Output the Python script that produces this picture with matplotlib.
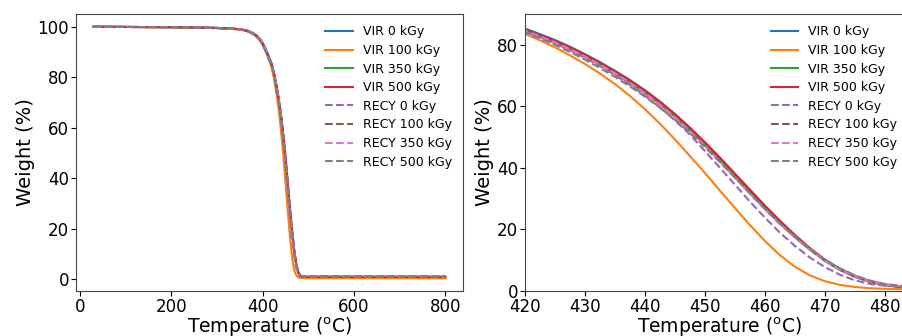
import matplotlib
matplotlib.use('Agg')
import matplotlib.pyplot as plt

# --- dados TGA ---
temperatura = [30, 100, 200, 250, 300, 325, 350, 360, 370, 380, 390, 395, 400, 405, 410, 415,
               420, 422.5, 425, 427.5, 430, 432.5, 435, 437.5, 440, 442.5, 445, 447.5, 450,
               452.5, 455, 457.5, 460, 462.5, 465, 467.5, 470, 472.5, 475, 477.5, 480, 482.5, 485,
               490, 500, 550, 600, 700, 800]

vir_0 = [100.0, 99.9, 99.8, 99.7, 99.5, 99.3, 99.0, 98.7, 98.2, 97.4, 96.0, 95.0, 93.6, 91.8, 89.7, 87.6,
         85.3, 83.5, 81.6, 79.4, 77.0, 74.4, 71.6, 68.6, 65.3, 61.6, 57.5, 53.0, 48.2,
         43.1, 37.8, 32.5, 27.3, 22.4, 17.9, 13.6, 9.9, 6.9, 4.6, 3.0, 1.9, 1.3, 1.0,
         0.9, 0.9, 0.9, 0.9, 0.9, 0.9]

vir_100 = [100.0, 99.9, 99.8, 99.6, 99.4, 99.2, 98.9, 98.5, 97.9, 97.0, 95.4, 94.3, 92.8, 90.9, 88.7, 86.3,
           83.6, 81.5, 79.2, 76.6, 73.8, 70.7, 67.3, 63.4, 59.1, 54.4, 49.3, 43.9, 38.4,
           32.7, 27.0, 21.5, 16.3, 11.7, 7.9, 5.1, 3.2, 2.0, 1.3, 0.9, 0.7, 0.6, 0.6,
           0.5, 0.5, 0.5, 0.5, 0.5, 0.4]

vir_350 = [100.0, 99.9, 99.8, 99.7, 99.5, 99.3, 99.0, 98.6, 98.1, 97.2, 95.8, 94.7, 93.2, 91.4, 89.3, 87.1,
           84.8, 83.0, 81.0, 78.8, 76.4, 73.8, 70.9, 67.8, 64.5, 60.8, 56.7, 52.2, 47.4,
           42.3, 37.0, 31.8, 26.7, 21.9, 17.5, 13.4, 9.8, 6.9, 4.7, 3.1, 2.0, 1.4, 1.1,
           1.0, 1.0, 1.0, 1.0, 1.0, 1.0]

vir_500 = [100.0, 99.9, 99.8, 99.7, 99.5, 99.3, 99.0, 98.7, 98.2, 97.3, 95.9, 94.8, 93.3, 91.5, 89.4, 87.2,
           84.9, 83.2, 81.3, 79.2, 76.8, 74.2, 71.4, 68.4, 65.1, 61.5, 57.5, 53.1, 48.4,
           43.4, 38.2, 33.0, 27.8, 22.9, 18.3, 14.0, 10.2, 7.1, 4.8, 3.1, 2.0, 1.4, 1.1,
           1.0, 1.0, 1.0, 1.0, 1.0, 1.0]

recy_0 = [100.0, 99.9, 99.8, 99.7, 99.5, 99.3, 99.0, 98.6, 98.0, 97.1, 95.6, 94.5, 93.0, 91.2, 89.0, 86.7,
          84.3, 82.5, 80.5, 78.3, 75.8, 73.1, 70.2, 67.0, 63.5, 59.7, 55.5, 50.9, 45.5,
          40.1, 34.6, 29.1, 23.9, 19.0, 14.7, 10.9, 7.8, 5.3, 3.5, 2.3, 1.7, 1.4, 1.3,
          1.2, 1.2, 1.2, 1.2, 1.2, 1.2]

recy_100 = [100.0, 99.9, 99.8, 99.7, 99.5, 99.3, 99.0, 98.6, 98.1, 97.2, 95.8, 94.7, 93.2, 91.3, 89.2, 86.9,
            84.5, 82.7, 80.7, 78.5, 76.1, 73.5, 70.6, 67.5, 64.2, 60.6, 56.6, 52.2, 47.5,
            42.5, 37.3, 32.1, 27.0, 22.2, 17.8, 13.8, 10.2, 7.3, 5.0, 3.3, 2.2, 1.6, 1.3,
            1.2, 1.2, 1.2, 1.2, 1.2, 1.2]

recy_350 = [100.0, 99.9, 99.8, 99.7, 99.5, 99.3, 99.0, 98.6, 98.1, 97.2, 95.8, 94.7, 93.2, 91.3, 89.2, 86.9,
            84.6, 82.8, 80.8, 78.6, 76.2, 73.6, 70.8, 67.7, 64.3, 60.6, 56.5, 52.0, 47.2,
            42.1, 36.9, 31.7, 26.6, 21.8, 17.4, 13.4, 9.9, 7.0, 4.8, 3.2, 2.1, 1.6, 1.3,
            1.2, 1.2, 1.2, 1.2, 1.2, 1.2]

recy_500 = [100.0, 99.9, 99.8, 99.7, 99.5, 99.3, 99.0, 98.5, 97.9, 97.0, 95.5, 94.3, 92.8, 90.9, 88.7, 86.4,
            84.0, 82.1, 80.0, 77.7, 75.2, 72.5, 69.6, 66.5, 63.2, 59.6, 55.7, 51.4, 46.8,
            41.9, 36.9, 31.8, 26.8, 22.1, 17.8, 13.8, 10.3, 7.4, 5.1, 3.4, 2.3, 1.7, 1.4,
            1.3, 1.3, 1.3, 1.3, 1.3, 1.3]

series = [vir_0, vir_100, vir_350, vir_500, recy_0, recy_100, recy_350, recy_500]
rotulos = ['VIR 0 kGy', 'VIR 100 kGy', 'VIR 350 kGy', 'VIR 500 kGy',
           'RECY 0 kGy', 'RECY 100 kGy', 'RECY 350 kGy', 'RECY 500 kGy']
estilos = ['-', '-', '-', '-', '--', '--', '--', '--']
cores = ['tab:blue', 'tab:orange', 'tab:green', 'tab:red',
         'tab:purple', 'tab:brown', 'tab:pink', 'tab:gray']

fig = plt.figure(figsize=(9.02, 3.36), dpi=100)
ax1 = fig.add_axes([0.0843, 0.134, 0.429, 0.824])
ax2 = fig.add_axes([0.582, 0.134, 0.432, 0.824])

def desenha(ax, ancora):
    for y, lab, ls, c in zip(series, rotulos, estilos, cores):
        ax.plot(temperatura, y, ls, color=c, label=lab, lw=1.5)
    ax.set_xlabel('Temperature ($^{\\rm o}$C)', fontsize=13.5, labelpad=0)
    ax.set_ylabel('Weight (%)', fontsize=14, labelpad=2)
    ax.tick_params(labelsize=12, pad=1.5)
    for s in ax.spines.values():
        s.set_color('#444444')
    ax.legend(loc='upper right', bbox_to_anchor=ancora, frameon=False, fontsize=9,
              labelspacing=0.45, handlelength=2.2)

desenha(ax1, (1.0, 1.0))
ax1.set_xticks([0, 200, 400, 600, 800])
ax1.set_yticks([0, 20, 40, 60, 80, 100])

desenha(ax2, (0.985, 1.0))
ax2.set_xlim(420, 485)
ax2.set_ylim(0, 90)
ax2.set_xticks([420, 430, 440, 450, 460, 470, 480])
ax2.set_yticks([0, 20, 40, 60, 80])

fig.savefig('out.png', dpi=100)
